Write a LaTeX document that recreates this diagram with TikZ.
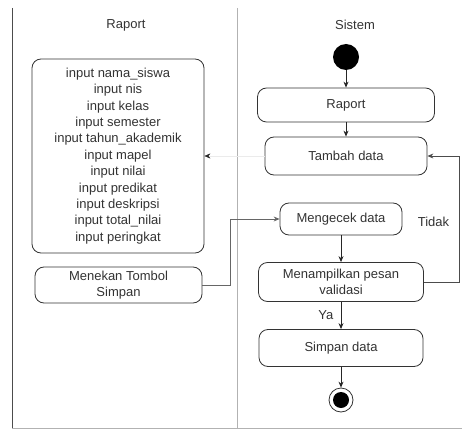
\documentclass[tikz,border=0pt]{standalone}
\usepackage{fontspec}
\setmainfont{Liberation Sans}
\usetikzlibrary{arrows.meta, positioning, calc}

\begin{document}
\begin{tikzpicture}[x=1pt, y=-1pt,
  every node/.style={font=\fontsize{13}{16}\selectfont, text=black!80},
  act/.style={draw=black!80, line width=0.8pt, rounded corners=9pt, fill=white, align=center, inner sep=0pt},
  arr/.style={-{Stealth[length=6pt,width=5pt]}, line width=0.8pt, black!85},
  lane/.style={gray!60, line width=1pt}
]
\useasboundingbox (0,0) rectangle (462,430);
% swimlanes
\draw[black!70, line width=1pt] (12,8) -- (12,428);
\draw[lane] (237,8) -- (237,428);
\draw[lane] (12,428) -- (462,428);
\node (lanea) at (126,25) {Raport};
\node (laneb) at (355,25) {Sistem};

% user lane
\node[act, minimum width=172pt, minimum height=194pt, font=\fontsize{13}{16.4}\selectfont] (inputs) at (118,156)
  {input nama\_siswa\\input nis\\input kelas\\input semester\\input tahun\_akademik\\input mapel\\input nilai\\input predikat\\input deskripsi\\input total\_nilai\\input peringkat};
\node[act, minimum width=167pt, minimum height=36pt] (press) at (118.5,285) {Menekan Tombol\\Simpan};

% system lane
\node[circle, fill=black, minimum size=26pt, inner sep=0pt] (start) at (346,57) {};
\node[act, minimum width=177pt, minimum height=34pt] (report) at (346,105) {Raport};
\node[act, minimum width=162pt, minimum height=38pt] (add) at (346,156) {Tambah data};
\node[act, minimum width=122pt, minimum height=32pt] (check) at (341,219) {Mengecek data};
\node[act, minimum width=165pt, minimum height=39pt] (valid) at (341,282) {Menampilkan pesan\\validasi};
\node[act, minimum width=164pt, minimum height=37pt] (save) at (341,348) {Simpan data};
\node[circle, draw=black!80, line width=0.8pt, minimum size=24pt, inner sep=0pt] (stop) at (341,400) {};
\node[circle, fill=black, minimum size=16pt, inner sep=0pt] (stopdot) at (stop) {};

\draw[arr] (start) -- (report);
\draw[arr] (report) -- (add);
\draw[-{Stealth[length=6pt,width=5pt,color=black!85]}, black!8] (add) -- (inputs);
\draw[arr, black!60] (press.east) -- ++(28,0) |- (check.west);
\draw[arr] (check) -- (valid);
\draw[arr] (valid) -- node[left, xshift=-4pt] (ya) {Ya} (save);
\draw[arr] (save) -- (stop);
\draw[arr, black!70] (valid.east) -- ++(35,0) |- node[pos=0.24, left, xshift=-6pt] (tidak) {Tidak} (add.east);
\end{tikzpicture}
\end{document}
